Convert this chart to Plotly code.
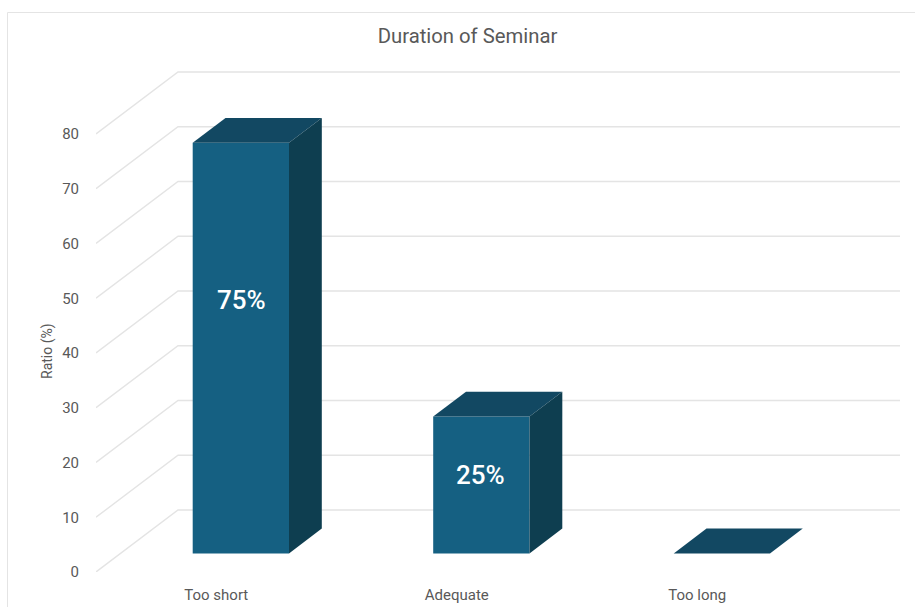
import plotly.graph_objects as go

categories = ["Too short", "Adequate", "Too long"]
values = [75, 25, 0]
labels = ["75%", "25%", ""]
y_ticks = [0, 10, 20, 30, 40, 50, 60, 70, 80]

# page geometry (pixels)
W, H = 915, 607
PL, PR, PT, PB = 96.0, 900.0, 71.0, 572.0
CAT_PX = 240.5
UNIT_PX = 5.475
DEPTH_X_PX, DEPTH_Y_PX = 82.0, 62.0
BAR_PX = 96.3
GAP_FRONT, BAR_DEPTH = 0.30, 0.40

FONT = "Roboto"
TXT = "#595959"
GRID = "#e4e4e4"
FRONT, TOP, SIDE = "#156082", "#124862", "#0E3E50"

dx = DEPTH_X_PX / CAT_PX
dy = DEPTH_Y_PX / UNIT_PX
x_lo = -0.5
x_hi = x_lo + (PR - PL) / CAT_PX
y_hi = (PB - PT) / UNIT_PX
bw = BAR_PX / CAT_PX

fig = go.Figure()

# walls: depth diagonal + back-wall line for every tick
for t in y_ticks:
    fig.add_trace(go.Scatter(
        x=[x_lo, x_lo + dx, x_hi], y=[t, t + dy, t + dy], mode="lines",
        line=dict(color=GRID, width=1.4), hoverinfo="skip", showlegend=False,
        cliponaxis=False, zorder=0))

# front faces
xs = list(range(len(categories)))
x_front = [x + GAP_FRONT * dx for x in xs]
y_base = GAP_FRONT * dy
fig.add_trace(go.Bar(
    x=x_front, y=values, base=[y_base] * len(values), width=bw,
    marker=dict(color=FRONT, line=dict(width=0)), showlegend=False, zorder=1))

# top and side faces
ox, oy = BAR_DEPTH * dx, BAR_DEPTH * dy
for xc, v in zip(x_front, values):
    l, r = xc - bw / 2, xc + bw / 2
    b, t = y_base, y_base + v
    fig.add_trace(go.Scatter(
        x=[l, r, r + ox, l + ox, l], y=[t, t, t + oy, t + oy, t],
        fill="toself", fillcolor=TOP, mode="lines", line=dict(width=0, color=TOP),
        hoverinfo="skip", showlegend=False, cliponaxis=False, zorder=2))
    if v > 0:
        fig.add_trace(go.Scatter(
            x=[r, r + ox, r + ox, r, r], y=[b, b + oy, t + oy, t, b],
            fill="toself", fillcolor=SIDE, mode="lines", line=dict(width=0, color=SIDE),
            hoverinfo="skip", showlegend=False, cliponaxis=False, zorder=2))

# data labels
label_yshift = [48, 10, 0]
label_xshift = [1, -1, 0]
annotations = []
for xc, v, s, sy, sx in zip(x_front, values, labels, label_yshift, label_xshift):
    if s:
        annotations.append(dict(
            x=xc, y=y_base + v / 2, text=s, showarrow=False, yshift=sy, xshift=sx,
            font=dict(family=FONT, size=26, color="#ffffff", weight=500)))

px = lambda p: (p - PL) / (PR - PL)
py = lambda p: (PB - p) / (PB - PT)
annotations.append(dict(
    xref="paper", yref="paper", x=px(47), y=py(351), text="Ratio (%)", textangle=-90,
    xanchor="center", yanchor="middle",
    showarrow=False, font=dict(family=FONT, size=14, color=TXT)))

fig.update_layout(
    width=W, height=H, autosize=False,
    margin=dict(l=PL, r=W - PR, t=PT, b=H - PB, pad=0, autoexpand=False),
    paper_bgcolor="#ffffff", plot_bgcolor="rgba(0,0,0,0)",
    showlegend=False, barmode="overlay",
    title=dict(text="Duration of Seminar", x=467.5 / W, xanchor="center",
               y=1 - 36 / H, yanchor="middle", font=dict(family=FONT, size=20.3, color=TXT)),
    xaxis=dict(range=[x_lo, x_hi], tickmode="array", tickvals=xs, ticktext=categories,
               automargin=False,
               showgrid=False, zeroline=False, showline=False, ticks="outside", ticklen=9,
               tickcolor="rgba(0,0,0,0)", tickfont=dict(family=FONT, size=15, color=TXT)),
    yaxis=dict(range=[0, y_hi], tickmode="array", tickvals=y_ticks, automargin=False,
               showgrid=False, zeroline=False, showline=False, ticks="outside", ticklen=13,
               tickcolor="rgba(0,0,0,0)", tickfont=dict(family=FONT, size=15, color=TXT)),
    annotations=annotations,
    shapes=[dict(type="path", xref="paper", yref="paper",
                 path=f"M {px(7.5)} {py(H + 5)} L {px(7.5)} {py(12.5)} L {px(W + 5)} {py(12.5)}",
                 line=dict(color=GRID, width=1), layer="below")],
)

fig.write_html("out.html", config=dict(displayModeBar=False),
               post_script="document.body.style.margin='0';document.body.style.overflow='hidden';")
